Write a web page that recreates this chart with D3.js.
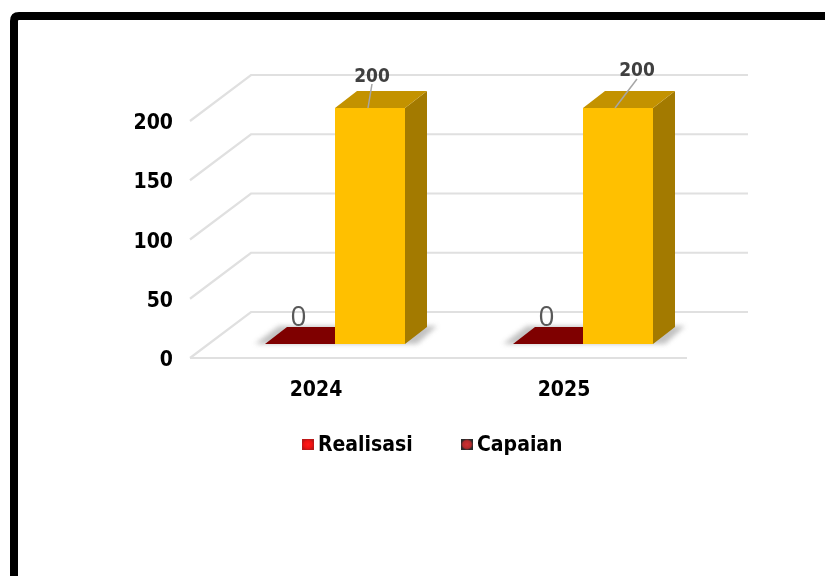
<!DOCTYPE html>
<html><head><meta charset="utf-8">
<style>html,body{margin:0;padding:0;background:#fff}svg{display:block}text{font-family:"DejaVu Sans Condensed","DejaVu Sans",sans-serif;font-stretch:condensed}</style>
<script src="https://cdn.jsdelivr.net/npm/d3@7"></script></head>
<body><svg id="c" width="825" height="576"></svg>
<script>
const categories = ["2024","2025"];
const realisasi = [0,0];
const capaian = [200,200];
const yTicks = [0,50,100,150,200];
const legendItems = ["Realisasi","Capaian"];

const svg = d3.select("#c");
const defs = svg.append("defs");
defs.append("filter").attr("id","soft").append("feGaussianBlur").attr("stdDeviation",0.6);
defs.append("filter").attr("id","txt").append("feGaussianBlur").attr("stdDeviation",0.3);
defs.append("filter").attr("id","shadow").attr("x","-30%").attr("y","-30%").attr("width","160%").attr("height","160%").append("feGaussianBlur").attr("stdDeviation",2.5);
const g1 = defs.append("radialGradient").attr("id","lg1");
g1.append("stop").attr("offset","0%").attr("stop-color","#ff1a1a");
g1.append("stop").attr("offset","70%").attr("stop-color","#ee1111");
g1.append("stop").attr("offset","100%").attr("stop-color","#b81818");
const g2 = defs.append("radialGradient").attr("id","lg2");
g2.append("stop").attr("offset","0%").attr("stop-color","#d03032");
g2.append("stop").attr("offset","70%").attr("stop-color","#b02a2c");
g2.append("stop").attr("offset","100%").attr("stop-color","#2a2a2a");

// frame
svg.append("path").attr("d","M14 590V21Q14 16 19 16H840").attr("fill","none").attr("stroke","#000").attr("stroke-width",8);

// projection
const depth = {dx:61, dy:-46};
const barDepth = {dx:22, dy:-17};
const y = d3.scaleLinear().domain([0,200]).range([358,121]);
const x = d3.scaleBand().domain(categories).range([190,686]);
const barW = 70;

// grid
const grid = svg.append("g").attr("filter","url(#soft)").attr("fill","none").attr("stroke","#e0e0e0").attr("stroke-width",2.2);
yTicks.forEach(t=>{
  const yy = y(t);
  grid.append("path").attr("d",`M190 ${yy}L${190+depth.dx} ${yy+depth.dy}L748 ${yy+depth.dy}`);
});
grid.append("path").attr("d",`M190 ${y(0)}L687 ${y(0)}`);

// y labels
svg.append("g").attr("filter","url(#txt)").selectAll("text").data(yTicks).join("text")
  .attr("x",173).attr("y",d=>y(d)+8).attr("text-anchor","end")
  .attr("font-size",21).attr("font-weight",700).attr("fill","#000").text(d=>d);

// x labels
svg.append("g").attr("filter","url(#txt)").selectAll("text").data(categories).join("text")
  .attr("x",d=>x(d)+x.bandwidth()/2+2).attr("y",396).attr("text-anchor","middle")
  .attr("font-size",21).attr("font-weight",700).attr("fill","#000").text(d=>d);

const baseY = y(0)-14;
const h = d3.scaleLinear().domain([0,200]).range([0,y(0)-y(200)-1]);
const capX = d=>x(d)+145;

const bars = svg.append("g");
categories.forEach((c,i)=>{
  const cx = capX(c), rx = cx-barW;
  const rh = h(realisasi[i]), ch = h(capaian[i]);
  // floor shadow
  bars.append("path").attr("d",`M${rx-10} ${baseY}L${rx+barDepth.dx-8} ${baseY+barDepth.dy-1}L${cx+barW+barDepth.dx+10} ${baseY+barDepth.dy-1}L${cx+barW+barDepth.dx-10} ${baseY}Z`)
    .attr("fill","#a8a8a8").attr("filter","url(#shadow)").attr("opacity",.7);
  // zero-height red bar
  bars.append("path").attr("d",`M${rx} ${baseY-rh}L${rx+barDepth.dx} ${baseY-rh+barDepth.dy}L${cx+barDepth.dx} ${baseY-rh+barDepth.dy}L${cx} ${baseY-rh}Z`).attr("fill","#7f0000");
  // gold bar
  const top = baseY-ch;
  const gold = bars.append("g").attr("filter","url(#soft)");
  gold.append("path").attr("d",`M${cx+barW} ${top}L${cx+barW+barDepth.dx} ${top+barDepth.dy}V${baseY+barDepth.dy}L${cx+barW} ${baseY}Z`).attr("fill","#a37a00");
  gold.append("path").attr("d",`M${cx} ${top}L${cx+barDepth.dx} ${top+barDepth.dy}H${cx+barW+barDepth.dx}L${cx+barW} ${top}Z`).attr("fill","#c39200");
  gold.append("rect").attr("x",cx).attr("y",top).attr("width",barW).attr("height",ch).attr("fill","#ffc000");
  // leader
  const lx = i===0 ? [368,372] : [615,637];
  const ly = i===0 ? [108,84] : [108,79];
  bars.append("line").attr("x1",lx[0]).attr("y1",ly[0]).attr("x2",lx[1]).attr("y2",ly[1]).attr("stroke","#a6a6a6").attr("stroke-width",1.5);
  // labels
  bars.append("text").attr("x",i===0?372:637).attr("y",i===0?82:76).attr("text-anchor","middle")
    .attr("font-size",19).attr("font-weight",700).attr("fill","#404040").attr("filter","url(#txt)").text(capaian[i]);
  bars.append("text").attr("x",rx+33.5).attr("y",326).attr("text-anchor","middle")
    .attr("font-size",28).attr("fill","#595959").attr("filter","url(#txt)")
    .style("font-family","'Open Sans',sans-serif").style("font-stretch","normal").text(realisasi[i]);
});

// legend
const legX = [302,461], textX=[318,477], swatch=["url(#lg1)","url(#lg2)"];
const leg = svg.append("g");
legendItems.forEach((t,i)=>{
  leg.append("rect").attr("x",legX[i]).attr("y",439).attr("width",12).attr("height",11).attr("fill",swatch[i]);
  leg.append("text").attr("x",textX[i]).attr("y",451).attr("font-size",21).attr("font-weight",700).attr("fill","#000").attr("filter","url(#txt)").text(t);
});
</script></body></html>
